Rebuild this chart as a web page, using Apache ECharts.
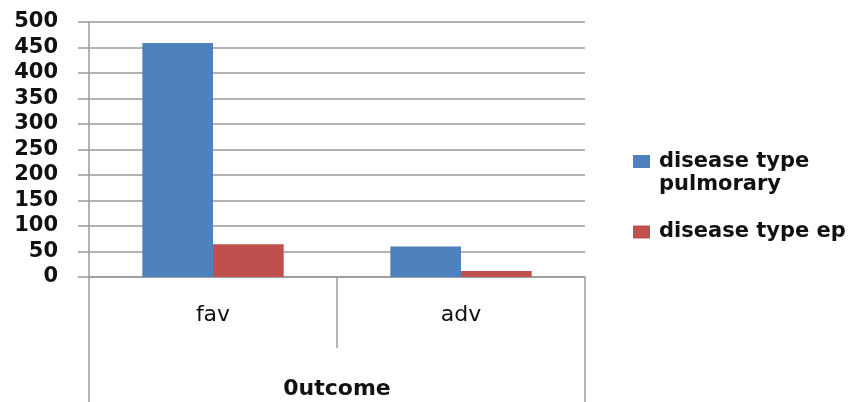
<!DOCTYPE html>
<html>
<head>
<meta charset="utf-8">
<script src="https://cdn.jsdelivr.net/npm/echarts@6/dist/echarts.min.js"></script>
<style>
  html, body { margin: 0; padding: 0; background: #fff; }
  #chart { width: 853px; height: 402px; }
</style>
</head>
<body>
<div id="chart"></div>
<script>
// data
const categories = ['fav', 'adv'];
const groupLabel = ['0utcome'];
const pulmorary = [459, 60];
const ep = [64, 12];
const seriesNames = ['disease type pulmorary', 'disease type ep'];

const gridColor = '#9a9a9a';

// legend icons: same 17x46 box, square near the top for the two-line item, centred for the other
const iconTop = 'path://M0,5L17,5L17,18L0,18Z M0,0L0,0 M0,46L0,46';
const iconMid = 'path://M0,16.5L17,16.5L17,29.5L0,29.5Z M0,0L0,0 M0,46L0,46';

const myChart = echarts.init(document.getElementById('chart'));

const option = {
    animation: false,
    textStyle: {fontFamily: 'DejaVu Sans'},
    grid: {left: 89, right: 268, top: 22, bottom: 125},
    legend: {
        orient: 'vertical',
        left: 628,
        top: 145,
        itemWidth: 17,
        itemHeight: 46,
        itemGap: 13,
        data: [
            {name: seriesNames[0], icon: iconTop},
            {name: seriesNames[1], icon: iconMid}
        ],
        formatter: (name) => name === seriesNames[0] ? 'disease type\npulmorary' : name,
        textStyle: {fontSize: 21, color: '#111', lineHeight: 23, fontWeight: 'bold', padding: [0, 0, 0, 4]}
    },
    xAxis: [
        {
            type: 'category',
            data: categories,
            position: 'bottom',
            axisLine: {show: true, lineStyle: {color: gridColor, width: 1.5}},
            axisTick: {show: true, length: 71, lineStyle: {color: gridColor, width: 1.5}},
            axisLabel: {fontSize: 22, color: '#111', margin: 27}
        },
        {
            type: 'category',
            data: groupLabel,
            position: 'bottom',
            axisLine: {show: false},
            axisTick: {show: true, length: 130, lineStyle: {color: gridColor, width: 1.5}},
            axisLabel: {fontSize: 22, fontWeight: 'bold', color: '#111', margin: 101}
        }
    ],
    yAxis: {
        type: 'value',
        min: 0,
        max: 500,
        interval: 50,
        axisLine: {show: true, lineStyle: {color: gridColor, width: 1.5}},
        axisTick: {show: true, length: 11, lineStyle: {color: gridColor, width: 1.5}},
        splitLine: {show: true, lineStyle: {color: gridColor, width: 1.5}},
        axisLabel: {fontSize: 21, fontWeight: 'bold', color: '#111', margin: 31}
    },
    series: [
        {
            name: seriesNames[0],
            type: 'bar',
            xAxisIndex: 0,
            data: pulmorary,
            itemStyle: {color: '#4F81BD'},
            barGap: '0%',
            barCategoryGap: '43%'
        },
        {
            name: seriesNames[1],
            type: 'bar',
            xAxisIndex: 0,
            data: ep,
            itemStyle: {color: '#C0504D'},
            barGap: '0%',
            barCategoryGap: '43%'
        }
    ]
};

myChart.setOption(option);
</script>
</body>
</html>
